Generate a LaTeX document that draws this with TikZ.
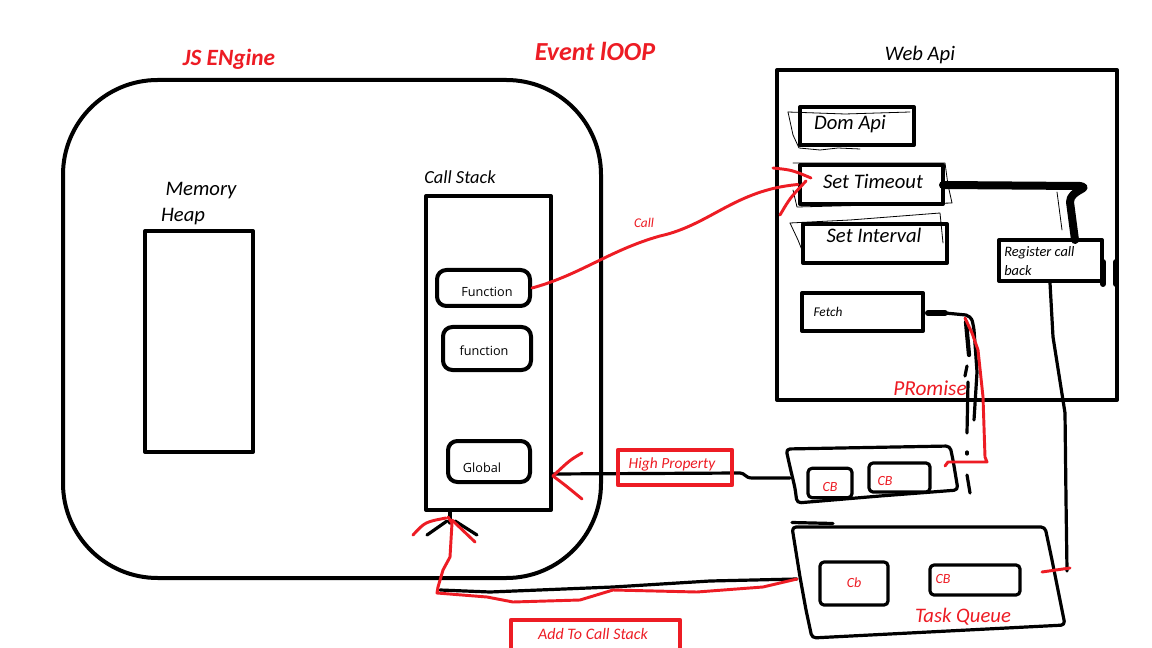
\documentclass[tikz,border=0pt]{standalone}
\usepackage{fontspec}
\newfontfamily\hand{Carlito}
\newfontfamily\ui{Open Sans}
\newcommand\fsz[1]{\fontsize{#1}{#1}\selectfont}
\definecolor{pred}{RGB}{237,28,36}
\begin{document}
\begin{tikzpicture}[x=0.75pt,y=-0.75pt, line join=round, line cap=round,
  box/.style={draw=black, line width=3pt, inner sep=0pt},
  rbox/.style={box, rounded corners=7pt},
  qbox/.style={draw=black, line width=2.4pt, inner sep=0pt, rounded corners=3pt},
  wire/.style={draw=black, line width=2.4pt},
  heavy/.style={draw=black, line width=6pt},
  sketch/.style={draw=black, line width=0.6pt},
  redl/.style={draw=pred, line width=2.2pt},
  redbox/.style={draw=pred, line width=3.2pt, inner sep=0pt},
  lbl/.style={text=black, inner sep=0pt},
  rlbl/.style={text=pred, inner sep=0pt},
]
\useasboundingbox (0,0) rectangle (1152,648);
\fill[white] (0,0) rectangle (1152,648);

% ---------- JS engine ----------
\node[box, rounded corners=71pt, minimum width=403.5pt, minimum height=373.5pt] (engine) at (332,329) {};
\node[rlbl, font=\hand\bfseries\itshape\fsz{17.5}] (jsl) at (229,59) {JS ENgine};
\node[rlbl, font=\hand\bfseries\itshape\fsz{19.5}] (evl) at (595,51) {Event lOOP};

\node[lbl, font=\hand\itshape\fsz{15.5}] (mem1) at (201,191) {Memory};
\node[lbl, font=\hand\itshape\fsz{15.5}] (mem2) at (183,217) {Heap};
\node[box, minimum width=81pt, minimum height=165.75pt] (heap) at (199,341.5) {};

\node[lbl, font=\hand\itshape\fsz{13.8}] (csl) at (460,177) {Call Stack};
\node[box, minimum width=93.75pt, minimum height=235.5pt] (stack) at (488.5,353) {};
\node[rbox, minimum width=69.75pt, minimum height=27pt] (fn1) at (483.5,288) {};
\node[lbl, font=\ui\fsz{9.5}] (fn1t) at (487,292) {Function};
\node[rbox, minimum width=66pt, minimum height=32.25pt] (fn2) at (487,348.5) {};
\node[lbl, font=\ui\fsz{9.5}] (fn2t) at (484,351) {function};
\node[rbox, minimum width=61.5pt, minimum height=30.75pt] (glob) at (489,461.5) {};
\node[lbl, font=\ui\fsz{9.5}] (globt) at (482,468) {Global};

% ---------- Web API ----------
\node[lbl, font=\hand\itshape\fsz{15.5}] (webl) at (920,55) {Web Api};
\node[box, minimum width=255pt, minimum height=247.5pt] (web) at (947,235) {};
\node[box, minimum width=85.5pt, minimum height=28.5pt] (dom) at (857,126) {};
\node[lbl, font=\hand\itshape\fsz{15.5}] (domt) at (850,124) {Dom Api};
\node[box, minimum width=107.25pt, minimum height=29.25pt] (st) at (871.5,184.5) {};
\node[lbl, font=\hand\itshape\fsz{15.5}] (stt) at (873,181) {Set Timeout};
\node[box, minimum width=108pt, minimum height=29.25pt] (si) at (875,243.5) {};
\node[lbl, font=\hand\itshape\fsz{15.5}] (sit) at (874,235) {Set Interval};
\node[box, minimum width=90.75pt, minimum height=28.5pt] (fetch) at (862.5,312) {};
\node[lbl, font=\hand\itshape\fsz{10}] (fetcht) at (828,312) {Fetch};
\node[box, minimum width=77.25pt, minimum height=30.75pt] (reg) at (1050.5,260.5) {};
\node[lbl, font=\hand\itshape\fsz{10.8}, anchor=west] (regt1) at (1004,253) {Register call};
\node[lbl, font=\hand\itshape\fsz{10.8}, anchor=west] (regt2) at (1004,271) {back};
\node[rlbl, font=\hand\itshape\fsz{16}] (prom) at (930,388) {PRomise};

% thin sketch outlines
\draw[sketch] (788,112) -- (845,114) -- (910,112);
\draw[sketch] (788,112) -- (793,135) -- (799,148) -- (820,150) -- (838,148) -- (860,149);
\draw[sketch] (793,163) -- (945,163) -- (948,185) -- (952,203) -- (797,207) -- (793,190);
\draw[sketch] (790,223) -- (850,220) -- (940,213) -- (943,243);
\draw[sketch] (790,223) -- (798,240) -- (802,250);
\draw[sketch] (1057,192) -- (1062,230);

% Set Timeout -> Register call back
\coordinate (stout) at (943,185);
\coordinate (regin) at (1075,240);
\draw[heavy] (stout) -- (1080,186) .. controls (1092,188) and (1070,190) .. (1070,202) -- (regin);
\draw[draw=black, line width=4.5pt] (1103,262) -- (1103,284);
\draw[draw=black, line width=4.5pt] (1116,262) -- (1116,284);

% ---------- queues ----------
\draw[qbox] (786,449) -- (950,446) -- (953,460) -- (958,490) -- (880,496) -- (797,503) -- (795,488) -- (790,467) -- cycle;
\coordinate (mq) at (790,478);
\node[qbox, minimum width=33pt, minimum height=22pt] (cb1) at (830,483) {};
\node[rlbl, font=\hand\itshape\fsz{10.5}] (cb1t) at (830,487) {CB};
\node[qbox, minimum width=45.75pt, minimum height=21.75pt] (cb2) at (899.5,477.5) {};
\node[rlbl, font=\hand\itshape\fsz{10.5}] (cb2t) at (885,481) {CB};

\draw[qbox] (792,527) -- (1045,527) -- (1052,560) -- (1065,625) -- (812,638) -- (806,610) -- (800,577) -- cycle;
\draw[wire] (792,522.5) -- (833,523.5);
\coordinate (tq) at (797,579);
\node[qbox, minimum width=51pt, minimum height=32.25pt] (cb3) at (854,583.5) {};
\node[rlbl, font=\hand\itshape\fsz{10.5}] (cb3t) at (854,583) {Cb};
\node[qbox, minimum width=67.5pt, minimum height=22.5pt] (cb4) at (975,580) {};
\node[rlbl, font=\hand\itshape\fsz{10.5}] (cb4t) at (943,579) {CB};
\node[rlbl, font=\hand\itshape\fsz{15.5}] (tql) at (963,617) {Task Queue};

% Register call back -> task queue
\coordinate (regout) at (1050,283);
\draw[wire] (regout) -- (1053,337) -- (1065,413) -- (1066,500) -- (1067,571);
\draw[redl] (1042,572) -- (1070,568);

% Fetch -> promise -> microtask queue
\draw[draw=black, line width=4.5pt] (928,313) -- (945,313);
\draw[wire] (945,313) -- (966,315) .. controls (972,318) .. (974,330) -- (977,372) -- (974,420);
\draw[draw=black, line width=3.2pt] (966,322) -- (969,355);
\draw[wire] (967,366) -- (965,376);
\draw[wire] (968,382) -- (967,433);
\draw[wire] (967,452) -- (967,454);
\draw[wire] (967,475) -- (970,493);
\draw[redl] (965,318) -- (972,333) -- (978,350) -- (983,397) -- (985,457) -- (987,462) -- (948,462) -- (945,466);

% ---------- microtask -> call stack ----------
\coordinate (gin) at (552,474);
\draw[wire] (gin) -- (740,473) .. controls (745,473) and (745,478) .. (752,478) -- (mq);
\node[redbox, minimum width=85.5pt, minimum height=26.25pt] (hp) at (675,467.5) {};
\node[rlbl, font=\hand\itshape\fsz{11.6}] (hpt) at (672,464) {High Property};
\draw[redl] (582,453) .. controls (570,460) .. (553,476) .. controls (565,485) .. (582,499);

% ---------- Call ----------
\draw[redl] (fn1.east) .. controls (580,275) and (610,250) .. (660,236) .. controls (710,225) and (735,190) .. (st.west);
\draw[redl] (773,168) .. controls (792,170) .. (811,178);
\draw[redl] (780,215) .. controls (790,198) .. (806,181);
\node[rlbl, font=\hand\itshape\fsz{10}] (calll) at (644,223) {Call};

% ---------- task queue -> call stack ----------
\draw[wire] (tq) -- (710,581) -- (613,587) -- (490,592) -- (440,590);
\draw[wire] (450,512) -- (450,523);
\draw[wire] (427,535) -- (447,521);
\draw[wire] (477,535) -- (455,521);
\draw[redl] (tq) -- (763,587) -- (697,592) -- (613,590) -- (580,600) -- (513,602) -- (487,597) -- (437,593) -- (438,587) -- (443,570) -- (450,557) -- (452,523) -- (448,517);
\draw[redl] (413,535) .. controls (425,522) .. (446,518);
\draw[redl] (475,542) -- (452,520);

\node[redbox, minimum width=126.75pt, minimum height=30pt] (atcs) at (595.5,640) {};
\node[rlbl, font=\hand\itshape\fsz{12}] (atcst) at (593,634) {Add To Call Stack};
\end{tikzpicture}
\end{document}
